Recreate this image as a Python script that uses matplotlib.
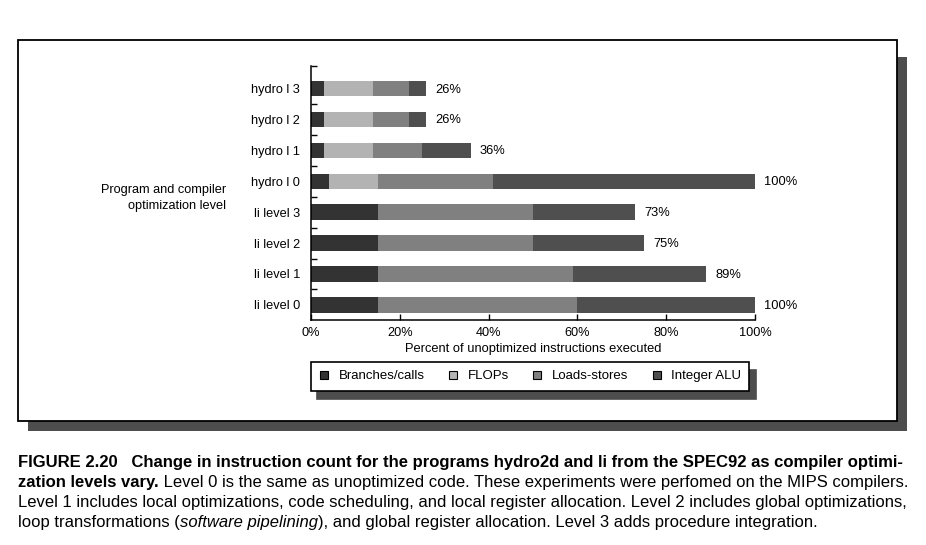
import matplotlib.pyplot as plt
import numpy as np
from matplotlib.patches import Rectangle
from matplotlib.lines import Line2D

plt.rcParams['font.family'] = ['Liberation Sans', 'DejaVu Sans']

# bottom to top
programs = ['li level 0', 'li level 1', 'li level 2', 'li level 3',
            'hydro l 0', 'hydro l 1', 'hydro l 2', 'hydro l 3']
branches = [15, 15, 15, 15, 4, 3, 3, 3]
flops = [0, 0, 0, 0, 11, 11, 11, 11]
loads = [45, 44, 35, 35, 26, 11, 8, 8]
int_alu = [40, 30, 25, 23, 59, 11, 4, 4]
totals = [100, 89, 75, 73, 100, 36, 26, 26]

series_names = ['Branches/calls', 'FLOPs', 'Loads-stores', 'Integer ALU']
colors = ['#333333', '#b3b3b3', '#808080', '#4f4f4f']

W, H = 926, 545
fig = plt.figure(figsize=(W / 100, H / 100), dpi=100)

# background layer in pixel coords for the frame + shadow
bg = fig.add_axes([0, 0, 1, 1], zorder=-5)
bg.set_xlim(0, W)
bg.set_ylim(H, 0)
bg.axis('off')
bg.add_patch(Rectangle((28, 57), 879, 374, fc='#4d4d4d', ec='none'))
bg.add_patch(Rectangle((18, 40), 879, 381, fc='white', ec='black', lw=1.3))

ax = fig.add_axes([311 / W, 1 - 320 / H, 444 / W, 254 / H])
ax.patch.set_alpha(0)
y = np.arange(len(programs))
left = np.zeros(len(programs))
for vals, c in zip([branches, flops, loads, int_alu], colors):
    ax.barh(y, vals, left=left, height=0.5, color=c, edgecolor='none')
    left += np.array(vals)

for yi, t in zip(y, totals):
    ax.annotate(f'{t}%', (t, yi), xytext=(9, -1), textcoords='offset pixels',
                va='center', ha='left', fontsize=9.3)

ax.set_xlim(0, 100)
ax.set_ylim(-0.49, 7.73)
ax.set_xticks([0, 20, 40, 60, 80, 100])
ax.set_xticklabels(['0%', '20%', '40%', '60%', '80%', '100%'])
ax.set_yticks(y)
ax.set_yticklabels(programs)
ax.set_yticks(list(np.arange(0.5, 7.5, 1)) + [7.73], minor=True)
ax.tick_params(axis='y', which='major', length=0, pad=8, labelsize=9.2)
ax.tick_params(axis='y', which='minor', direction='in', length=4, width=1)
ax.tick_params(axis='x', direction='in', length=4, width=1, pad=5, labelsize=9.2)
for s in ['top', 'right']:
    ax.spines[s].set_visible(False)
for s in ['left', 'bottom']:
    ax.spines[s].set_linewidth(1.1)
ax.set_xlabel('Percent of unoptimized instructions executed', fontsize=9.3, labelpad=3)

fig.text(226 / W, 1 - 198 / H, 'Program and compiler\noptimization level',
         ha='right', va='center', multialignment='right', fontsize=9.2,
         linespacing=1.45)

handles = [Line2D([], [], ls='none', marker='s', markersize=5.5, mfc=c,
                  mec='black', mew=0.8) for c in colors]
leg = fig.legend(handles, series_names, loc='upper left',
                 bbox_to_anchor=(311 / W, 1 - 362 / H), ncol=4, fontsize=9.5,
                 frameon=True, fancybox=False, edgecolor='black',
                 handlelength=0.8, handletextpad=0.7, columnspacing=1.75,
                 borderpad=0.62, borderaxespad=0,
                 shadow={'ox': 4.5, 'oy': -6, 'fc': '#4d4d4d', 'alpha': 1})
leg.get_frame().set_linewidth(1.2)

# caption
cap_font = ['Liberation Sans']
cs = 11.95
x0 = 18 / W
fig.text(x0, 1 - 462 / H,
         'FIGURE 2.20   Change in instruction count for the programs hydro2d and li '
         'from the SPEC92 as compiler optimi-',
         fontsize=cs, fontweight='bold', family=cap_font, va='center')
renderer = fig.canvas.get_renderer()
t1 = fig.text(x0, 1 - 483 / H, 'zation levels vary.', fontsize=cs,
              fontweight='bold', family=cap_font, va='center')
bb = t1.get_window_extent(renderer)
fig.text(bb.x1 / W, 1 - 483 / H,
         ' Level 0 is the same as unoptimized code. These experiments were '
         'perfomed on the MIPS compilers.', fontsize=cs, family=cap_font, va='center')
fig.text(x0, 1 - 503 / H,
         'Level 1 includes local optimizations, code scheduling, and local register '
         'allocation. Level 2 includes global optimizations,',
         fontsize=cs, family=cap_font, va='center')
t2 = fig.text(x0, 1 - 523 / H, 'loop transformations (', fontsize=cs,
              family=cap_font, va='center')
bb = t2.get_window_extent(renderer)
t3 = fig.text(bb.x1 / W, 1 - 523 / H, 'software pipelining', fontsize=cs,
              family=cap_font, style='italic', va='center')
bb = t3.get_window_extent(renderer)
fig.text(bb.x1 / W, 1 - 523 / H,
         '), and global register allocation. Level 3 adds procedure integration.',
         fontsize=cs, family=cap_font, va='center')

fig.savefig('out.png', dpi=100)
